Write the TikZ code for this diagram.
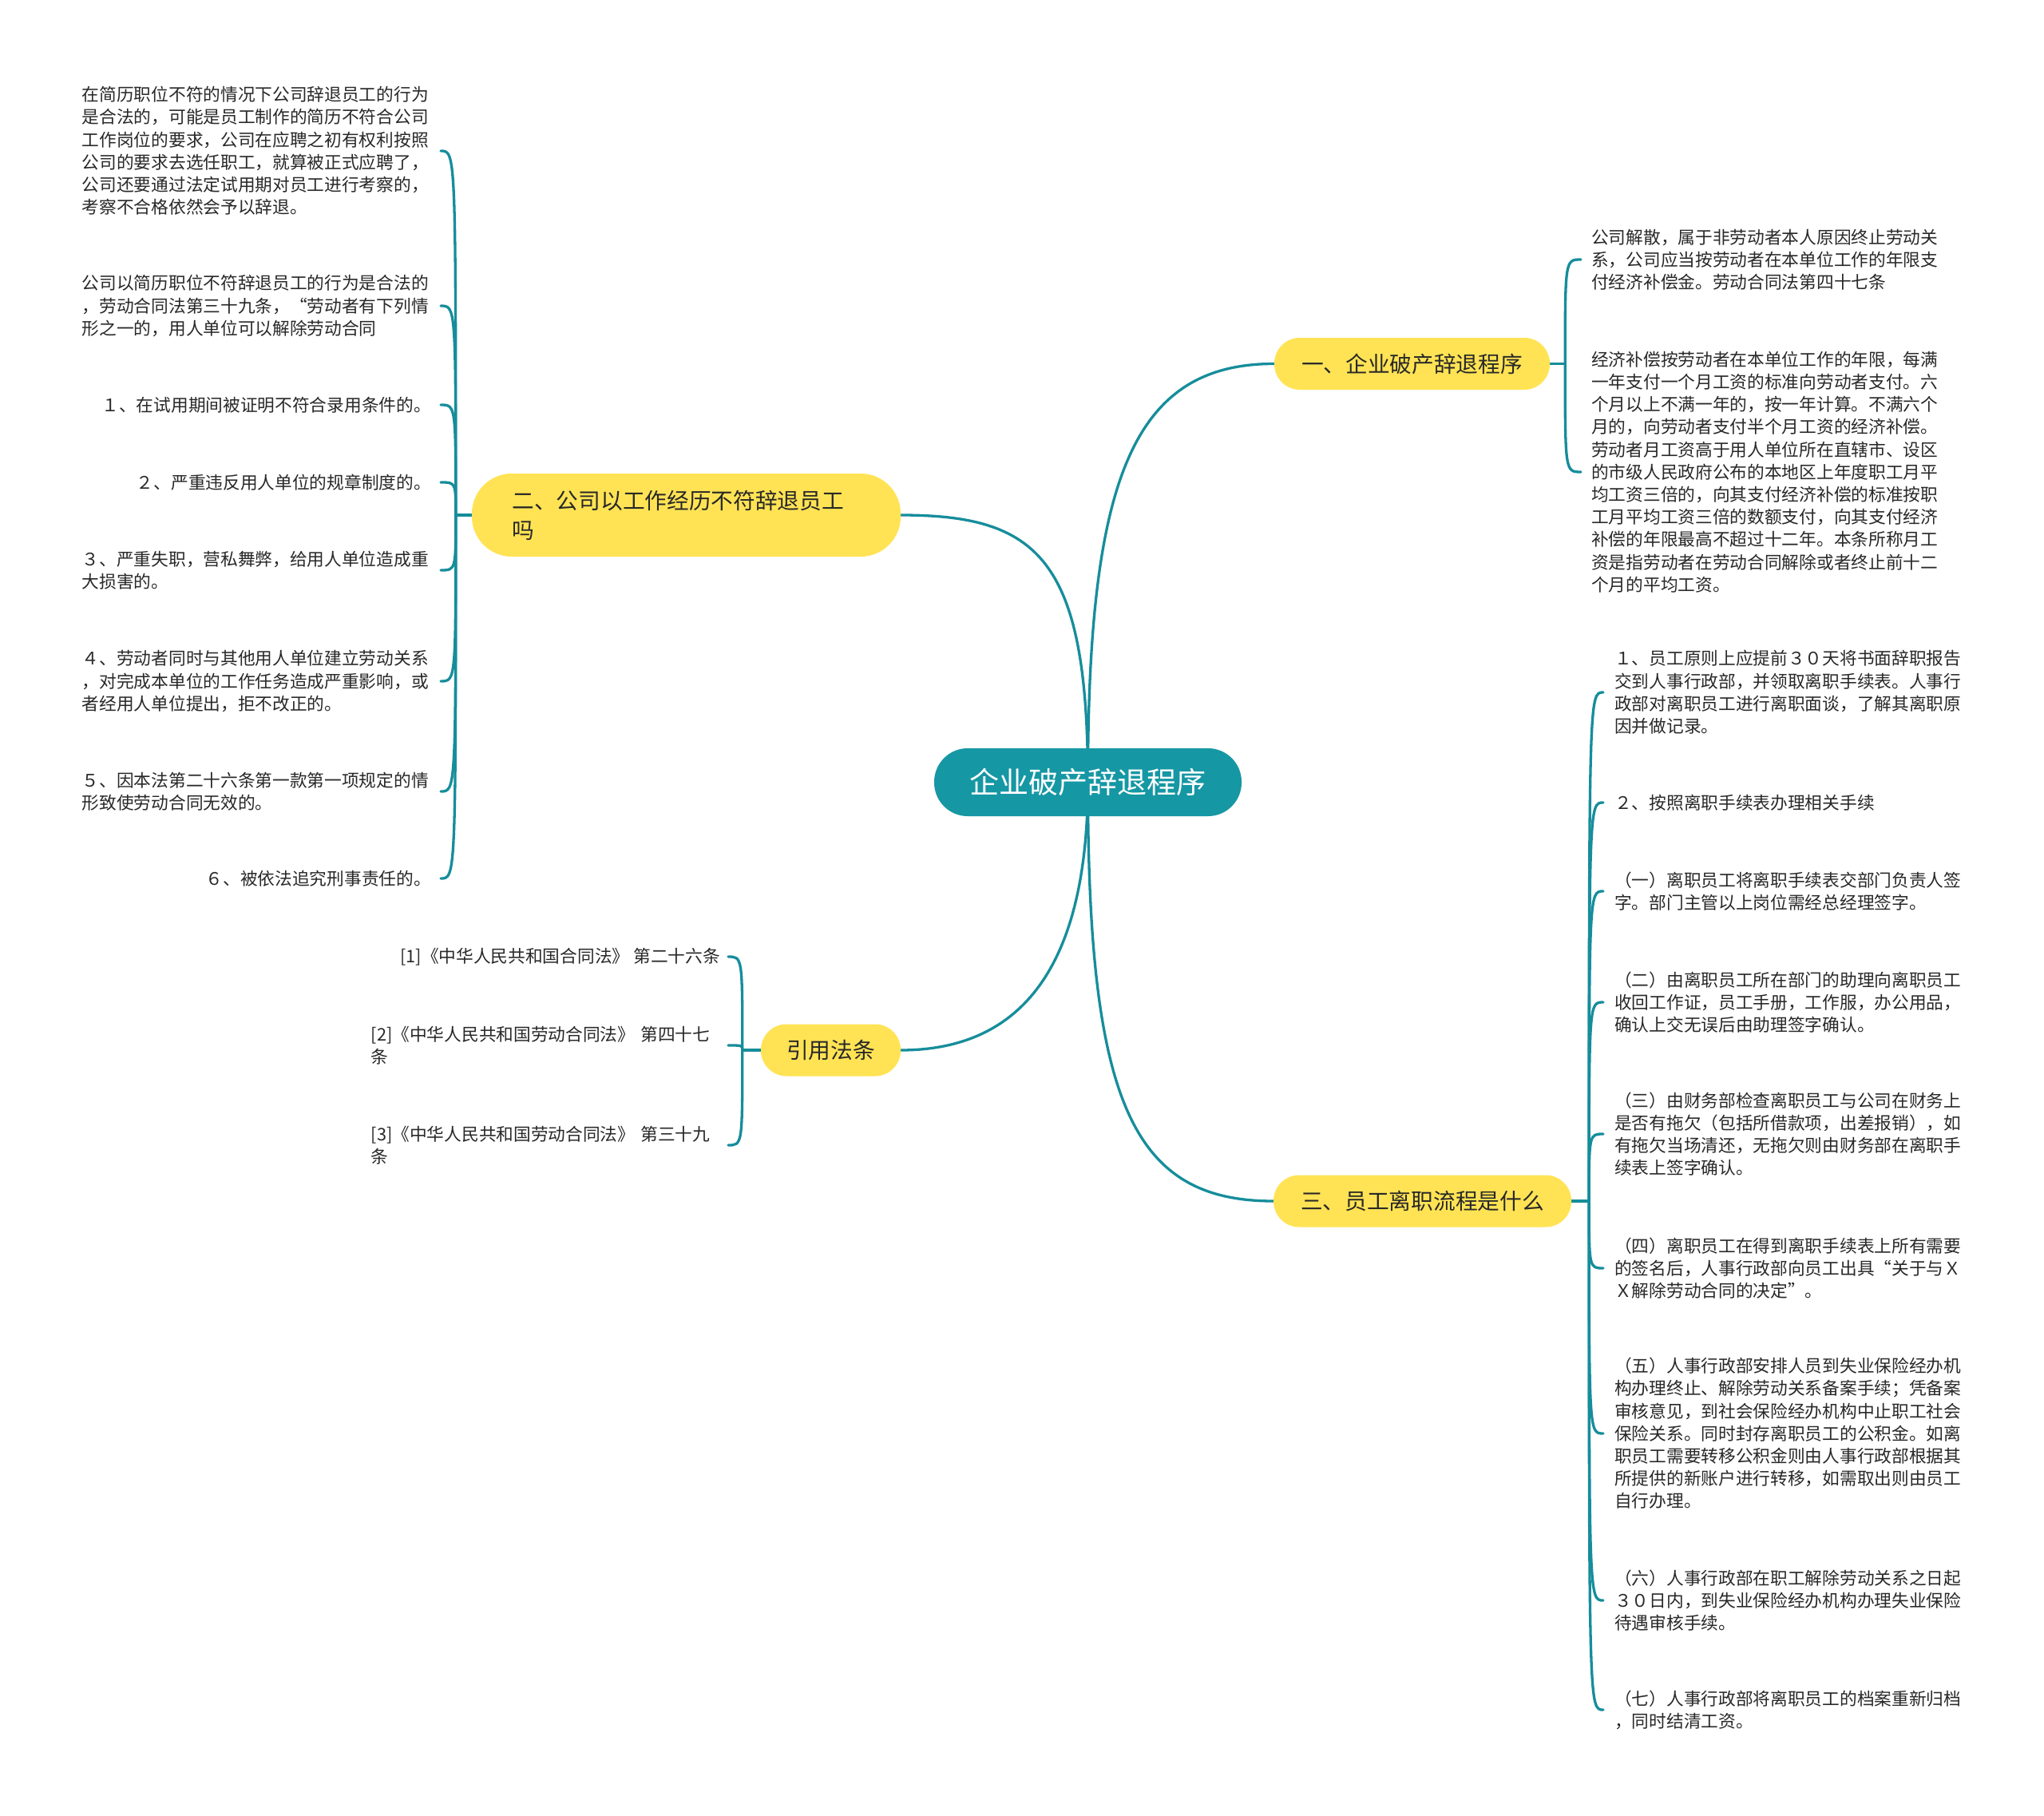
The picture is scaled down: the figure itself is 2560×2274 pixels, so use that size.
\documentclass[tikz,border=0pt]{standalone}
\usepackage{fontspec}
\newfontfamily\cjk{Noto Sans CJK SC}
\usetikzlibrary{calc}
\definecolor{rootfill}{RGB}{22,151,164}
\definecolor{ln}{RGB}{22,141,155}
\definecolor{yel}{RGB}{255,227,84}
\definecolor{txt}{RGB}{40,40,40}
\pgfdeclarelayer{bg}
\pgfsetlayers{bg,main}
\begin{document}
\begin{tikzpicture}[x=1pt,y=-1pt,
  leaf/.style={inner sep=0pt, text=txt, align=left, font=\cjk\fontsize{21.7}{28.2}\selectfont},
  wide/.style={text width=437pt},
  topic/.style={fill=yel, text=txt, rounded corners=32pt, minimum height=65pt, inner xsep=0pt, inner ysep=0pt, font=\cjk\fontsize{27.7}{37}\selectfont},
  rootnode/.style={fill=rootfill, text=white, rounded corners=42pt, minimum height=85pt, minimum width=385pt, inner sep=0pt, font=\cjk\fontsize{37}{44}\selectfont},
  conn/.style={draw=ln, line width=3.3pt, line cap=round}]
\useasboundingbox (0,0) rectangle (2560,2274);

% root and main topics
\node[rootnode] (c) at (1362.5,979.5) {企业破产辞退程序};
\node[topic, minimum width=345pt] (b1) at (1768.5,455.5) {一、企业破产辞退程序};
\node[topic, text width=436pt, align=left, inner xsep=50.5pt, minimum height=104pt, rounded corners=50pt] (b2) at (859.5,645) {二、公司以工作经历不符辞退员工\\吗};
\node[topic, minimum width=175pt] (r) at (1040.5,1315) {引用法条};
\node[topic, minimum width=373pt] (b3) at (1781.5,1504) {三、员工离职流程是什么};

% branch 1 leaves
\node[leaf, wide, anchor=west] (l1a) at (1993,325) {公司解散，属于非劳动者本人原因终止劳动关\\系，公司应当按劳动者在本单位工作的年限支\\付经济补偿金。劳动合同法第四十七条};
\node[leaf, wide, anchor=west] (l1b) at (1993,591) {经济补偿按劳动者在本单位工作的年限，每满\\一年支付一个月工资的标准向劳动者支付。六\\个月以上不满一年的，按一年计算。不满六个\\月的，向劳动者支付半个月工资的经济补偿。\\劳动者月工资高于用人单位所在直辖市、设区\\的市级人民政府公布的本地区上年度职工月平\\均工资三倍的，向其支付经济补偿的标准按职\\工月平均工资三倍的数额支付，向其支付经济\\补偿的年限最高不超过十二年。本条所称月工\\资是指劳动者在劳动合同解除或者终止前十二\\个月的平均工资。};

% branch 2 leaves
\node[leaf, wide, anchor=east] (l2a) at (540,189) {在简历职位不符的情况下公司辞退员工的行为\\是合法的，可能是员工制作的简历不符合公司\\工作岗位的要求，公司在应聘之初有权利按照\\公司的要求去选任职工，就算被正式应聘了，\\公司还要通过法定试用期对员工进行考察的，\\考察不合格依然会予以辞退。};
\node[leaf, wide, anchor=east] (l2b) at (540,383) {公司以简历职位不符辞退员工的行为是合法的\\，劳动合同法第三十九条，“劳动者有下列情\\形之一的，用人单位可以解除劳动合同};
\node[leaf, anchor=east] (l2c) at (540,507) {１、在试用期间被证明不符合录用条件的。};
\node[leaf, anchor=east] (l2d) at (540,604) {２、严重违反用人单位的规章制度的。};
\node[leaf, wide, anchor=east] (l2e) at (540,714) {３、严重失职，营私舞弊，给用人单位造成重\\大损害的。};
\node[leaf, wide, anchor=east] (l2f) at (540,853) {４、劳动者同时与其他用人单位建立劳动关系\\，对完成本单位的工作任务造成严重影响，或\\者经用人单位提出，拒不改正的。};
\node[leaf, wide, anchor=east] (l2g) at (540,991) {５、因本法第二十六条第一款第一项规定的情\\形致使劳动合同无效的。};
\node[leaf, anchor=east] (l2h) at (540,1100) {６、被依法追究刑事责任的。};

% reference leaves
\node[leaf, anchor=east] (r1) at (902,1198) {[1]《中华人民共和国合同法》 第二十六条};
\node[leaf, wide, anchor=east] (r2) at (902,1309) {[2]《中华人民共和国劳动合同法》 第四十七\\条};
\node[leaf, wide, anchor=east] (r3) at (902,1434) {[3]《中华人民共和国劳动合同法》 第三十九\\条};

% branch 3 leaves
\node[leaf, wide, anchor=west] (l3a) at (2022,867) {１、员工原则上应提前３０天将书面辞职报告\\交到人事行政部，并领取离职手续表。人事行\\政部对离职员工进行离职面谈，了解其离职原\\因并做记录。};
\node[leaf, anchor=west] (l3b) at (2022,1005) {２、按照离职手续表办理相关手续};
\node[leaf, wide, anchor=west] (l3c) at (2022,1116) {（一）离职员工将离职手续表交部门负责人签\\字。部门主管以上岗位需经总经理签字。};
\node[leaf, wide, anchor=west] (l3d) at (2022,1255) {（二）由离职员工所在部门的助理向离职员工\\收回工作证，员工手册，工作服，办公用品，\\确认上交无误后由助理签字确认。};
\node[leaf, wide, anchor=west] (l3e) at (2022,1420) {（三）由财务部检查离职员工与公司在财务上\\是否有拖欠（包括所借款项，出差报销），如\\有拖欠当场清还，无拖欠则由财务部在离职手\\续表上签字确认。};
\node[leaf, wide, anchor=west] (l3f) at (2022,1588) {（四）离职员工在得到离职手续表上所有需要\\的签名后，人事行政部向员工出具“关于与Ｘ\\Ｘ解除劳动合同的决定”。};
\node[leaf, wide, anchor=west] (l3g) at (2022,1795) {（五）人事行政部安排人员到失业保险经办机\\构办理终止、解除劳动关系备案手续；凭备案\\审核意见，到社会保险经办机构中止职工社会\\保险关系。同时封存离职员工的公积金。如离\\职员工需要转移公积金则由人事行政部根据其\\所提供的新账户进行转移，如需取出则由员工\\自行办理。};
\node[leaf, wide, anchor=west] (l3h) at (2022,2004) {（六）人事行政部在职工解除劳动关系之日起\\３０日内，到失业保险经办机构办理失业保险\\待遇审核手续。};
\node[leaf, wide, anchor=west] (l3i) at (2022,2141) {（七）人事行政部将离职员工的档案重新归档\\，同时结清工资。};

\coordinate (j1) at ([xshift=19pt]b1.east);
\coordinate (j2) at ([xshift=-20pt]b2.west);
\coordinate (jr) at ([xshift=-23pt]r.west);
\coordinate (j3) at ([xshift=22pt]b3.east);

\begin{pgfonlayer}{bg}
\fill[white] (0,0) rectangle (2560,2274);
\draw[conn] (c.center) .. controls +(0,-380) and +(-177,0) .. (b1.west);
\draw[conn] (c.center) .. controls +(0,-280) and +(172,0) .. (b2.east);
\draw[conn] (c.center) .. controls +(0,200) and +(172,0) .. (r.east);
\draw[conn] (c.center) .. controls +(0,400) and +(-177,0) .. (b3.west);

\draw[conn] (b1.east) -- (j1);
\foreach \n in {l1a,l1b}
  \draw[conn] (j1) .. controls (j1 |- \n.west) .. ([xshift=-13pt]\n.west);

\draw[conn] (b2.west) -- (j2);
\foreach \n in {l2a,l2b,l2c,l2d,l2e,l2f,l2g,l2h}
  \draw[conn] (j2) .. controls (j2 |- \n.east) .. ([xshift=12pt]\n.east);

\draw[conn] (r.west) -- (jr);
\foreach \n in {r1,r2,r3}
  \draw[conn] (jr) .. controls (jr |- \n.east) .. ([xshift=10pt]\n.east);

\draw[conn] (b3.east) -- (j3);
\foreach \n in {l3a,l3b,l3c,l3d,l3e,l3f,l3g,l3h,l3i}
  \draw[conn] (j3) .. controls (j3 |- \n.west) .. ([xshift=-14pt]\n.west);
\end{pgfonlayer}
\end{tikzpicture}
\end{document}
